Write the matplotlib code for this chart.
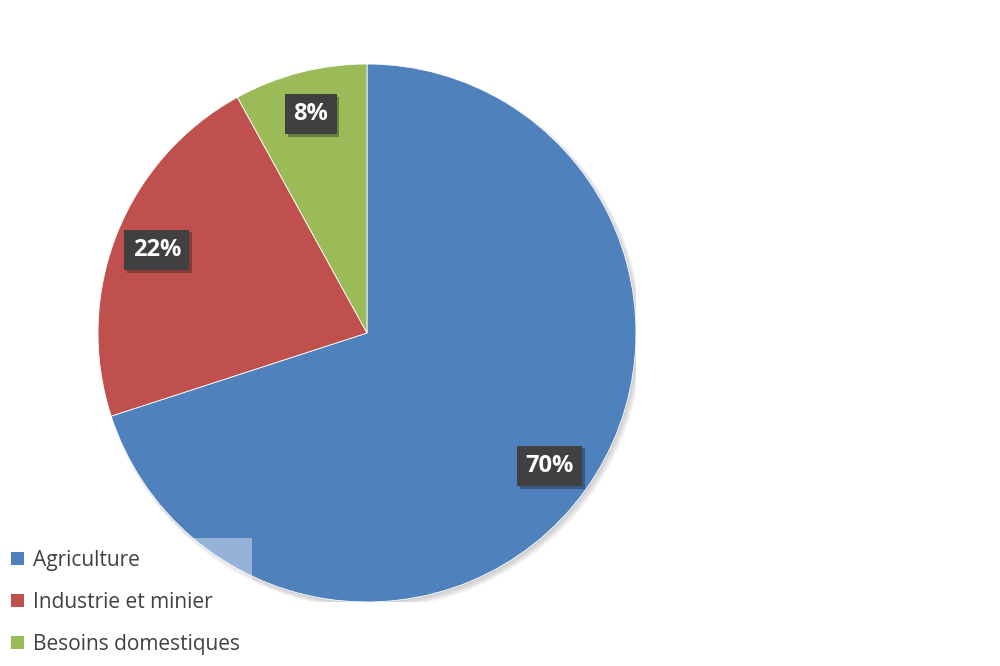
import matplotlib.pyplot as plt
import matplotlib.patheffects as pe
from matplotlib.patches import Patch, Circle

# data
categories = ['Agriculture', 'Industrie et minier', 'Besoins domestiques']
shares = [70, 22, 8]
colors = ['#4F81BD', '#C0504D', '#9BBB59']

plt.rcParams['font.family'] = ['Open Sans', 'DejaVu Sans']

fig = plt.figure(figsize=(10, 6.66), dpi=100)
r_px = 269
ax = fig.add_axes([(367 - r_px) / 1000, (333 - r_px) / 666, 2 * r_px / 1000, 2 * r_px / 666])

# soft shadow behind the pie
for i in range(4):
    ax.add_patch(Circle((0.004 + 0.003 * i, -0.006 - 0.003 * i), 1.0 + 0.003 * i,
                        color='black', alpha=0.05, lw=0, zorder=0))

wedges, texts, autotexts = ax.pie(shares, colors=colors, startangle=90, counterclock=False,
                                  autopct='%1.0f%%', pctdistance=0.84,
                                  wedgeprops=dict(edgecolor='white', linewidth=0.6, zorder=1),
                                  textprops=dict(color='white', fontsize=17, fontweight='bold'))

for t in autotexts:
    t.set_bbox(dict(boxstyle='square,pad=0.35', fc='#404040', ec='none'))
    t.get_bbox_patch().set_path_effects([pe.SimplePatchShadow(offset=(2, -2), alpha=0.35), pe.Normal()])

ax.set_xlim(-1, 1)
ax.set_ylim(-1, 1)
ax.set_aspect('equal')
ax.axis('off')

handles = [Patch(facecolor=c, edgecolor='none') for c in colors]
leg = fig.legend(handles, categories, loc='lower left', bbox_to_anchor=(0.0, 0.0),
                 borderaxespad=0, fontsize=15, frameon=True, fancybox=False,
                 handlelength=0.6, handleheight=0.6, handletextpad=0.45,
                 labelspacing=1.0, borderpad=0.55, labelcolor='#404040')
leg.get_frame().set_facecolor('white')
leg.get_frame().set_alpha(0.4)
leg.get_frame().set_edgecolor('none')

plt.savefig('out.png', dpi=100)
